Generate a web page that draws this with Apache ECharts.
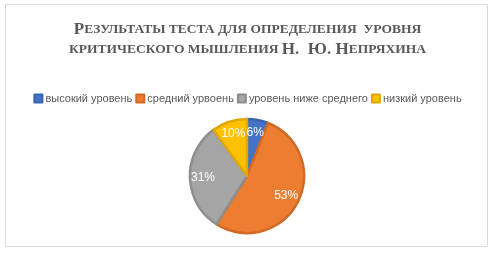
<!DOCTYPE html>
<html><head><meta charset="utf-8">
<script src="https://cdn.jsdelivr.net/npm/echarts@6/dist/echarts.min.js"></script>
<style>html,body{margin:0;padding:0;background:#fff}#c{width:495px;height:256px}</style>
</head><body><div id="c"></div>
<script>
var categories = ['высокий уровень', 'средний урвоень', 'уровень ниже среднего', 'низкий уровень'];
var values = [6, 53, 31, 10];
var colors = ['#4472C4', '#ED7D31', '#A5A5A5', '#FFC000'];
var borders = ['#3A64AE', '#D06A25', '#8E8E8E', '#E0A800'];
var chart = echarts.init(document.getElementById('c'));
function sc(big, small){ return '{b|' + big + '}{s|' + small + '}'; }
chart.setOption({
  backgroundColor: '#fff',
  graphic: [{type:'rect', shape:{x:5.5,y:4.5,width:482,height:242}, style:{fill:'none', stroke:'#d9d9d9', lineWidth:1}}],
  title: {
    text: sc('Р','ЕЗУЛЬТАТЫ ТЕСТА ДЛЯ ОПРЕДЕЛЕНИЯ  УРОВНЯ') + '\n' + '{s|КРИТИЧЕСКОГО МЫШЛЕНИЯ }{b|Н.  Ю. Н}{s|ЕПРЯХИНА}',
    left: 'center', top: 15,
    textStyle: {
      rich: {
        b: {fontFamily:'Liberation Serif', fontWeight:'bold', fontSize:17, color:'#595959', lineHeight:20},
        s: {fontFamily:'Liberation Serif', fontWeight:'bold', fontSize:13.5, color:'#595959', lineHeight:20}
      }
    }
  },
  legend: {
    top: 88, left: 'center', itemWidth: 8, itemHeight: 8, itemGap: 3, icon: 'rect',
    textStyle: {fontFamily:'Liberation Sans', fontSize: 11, color:'#595959', padding:[0,0,0,-2]},
    data: categories
  },
  series: [{
    type: 'pie', center: [247, 176], radius: [0, 57], startAngle: 90, clockwise: true,
    label: {show: false},
    labelLine: {show:false},
    data: categories.map(function(n,i){ return {name:n, value:values[i], itemStyle:{color:colors[i], borderColor:borders[i], borderWidth:2.5}}; })
  }, {
    type: 'pie', center: [247, 176], radius: [25, 57], startAngle: 90, clockwise: true, silent: true,
    label: {show: true, position: 'inside', formatter: '{d}%', color:'#fff', fontFamily:'Liberation Sans', fontSize: 12},
    labelLine: {show:false},
    itemStyle: {color:'rgba(0,0,0,0)'},
    emphasis: {disabled: true},
    data: categories.map(function(n,i){ return {name:n, value:values[i]}; })
  }]
});
</script></body></html>
